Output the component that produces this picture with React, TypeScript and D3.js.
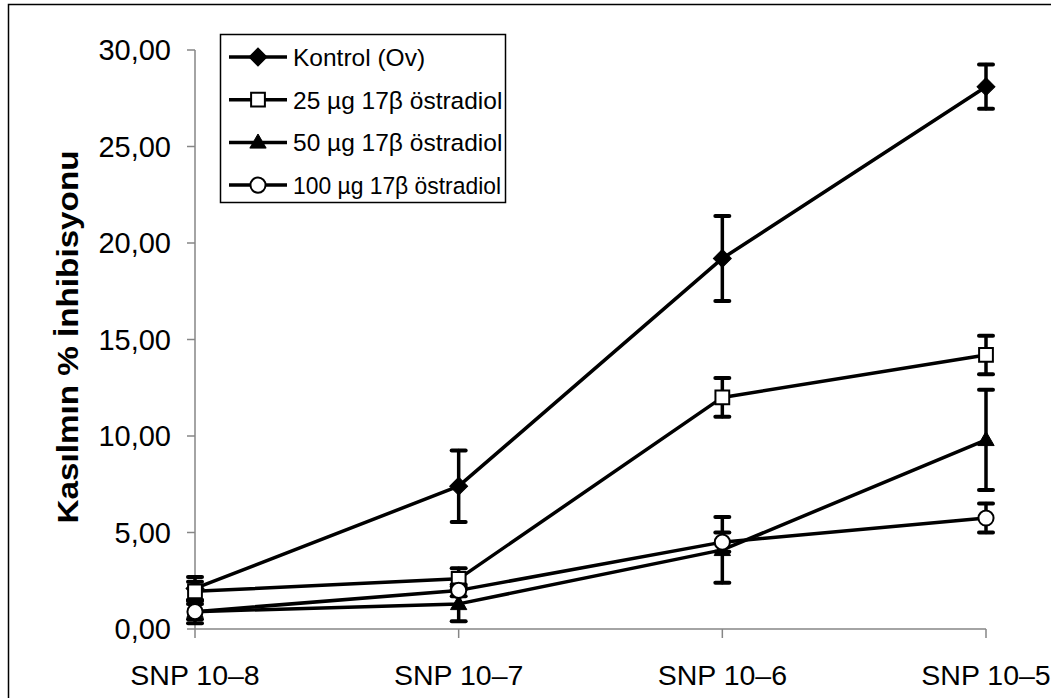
import React from 'react';
import * as d3 from 'd3';

const WIDTH = 1051;
const HEIGHT = 698;

const categories = ['SNP 10–8', 'SNP 10–7', 'SNP 10–6', 'SNP 10–5'];
const yTicks = [0, 5, 10, 15, 20, 25, 30];

const seriesNames = ['Kontrol (Ov)', '25 µg 17β östradiol', '50 µg 17β östradiol', '100 µg 17β östradiol'];
const kontrolValues = [2.1, 7.4, 19.2, 28.1];
const kontrolErrors = [0.6, 1.85, 2.2, 1.15];
const e25Values = [1.95, 2.6, 12.0, 14.2];
const e25Errors = [0.5, 0.55, 1.0, 1.0];
const e50Values = [0.9, 1.3, 4.1, 9.8];
const e50Errors = [0.6, 0.9, 1.7, 2.6];
const e100Values = [0.9, 2.0, 4.5, 5.75];
const e100Errors = [0.4, 0.3, 0.5, 0.75];

type MarkerKind = 'diamond' | 'square' | 'triangle' | 'circle';

const series: {name: string; values: number[]; errors: number[]; marker: MarkerKind}[] = [
    {name: seriesNames[0], values: kontrolValues, errors: kontrolErrors, marker: 'diamond'},
    {name: seriesNames[1], values: e25Values, errors: e25Errors, marker: 'square'},
    {name: seriesNames[2], values: e50Values, errors: e50Errors, marker: 'triangle'},
    {name: seriesNames[3], values: e100Values, errors: e100Errors, marker: 'circle'},
];

const FONT = '"Liberation Sans", Arial, sans-serif';
const AXIS_COLOR = '#868686';

const Marker = ({kind, x, y}: {kind: MarkerKind; x: number; y: number}) => {
    if (kind === 'diamond') {
        const path = d3.symbol(d3.symbolSquare, 160)() || '';
        return <path d={path} transform={`translate(${x},${y}) rotate(45)`} fill="black" stroke="black" strokeWidth={1}/>;
    }
    if (kind === 'square') {
        const path = d3.symbol(d3.symbolSquare, 190)() || '';
        return <path d={path} transform={`translate(${x},${y})`} fill="white" stroke="black" strokeWidth={2}/>;
    }
    if (kind === 'triangle') {
        const path = d3.symbol(d3.symbolTriangle, 115)() || '';
        return <path d={path} transform={`translate(${x},${y + 1})`} fill="black" stroke="black" strokeWidth={1}/>;
    }
    const path = d3.symbol(d3.symbolCircle, 180)() || '';
    return <path d={path} transform={`translate(${x},${y})`} fill="white" stroke="black" strokeWidth={2}/>;
};

export default function App() {
    const xScale = d3.scalePoint<string>().domain(categories).range([195, 986]);
    const yScale = d3.scaleLinear().domain([0, 30]).range([629, 50]);
    const axisLeftX = 195;

    const line = d3.line<number>()
        .x((_, i) => xScale(categories[i]) ?? 0)
        .y(d => yScale(d));

    const legendX = 220;
    const legendY = 34;
    const legendRowStart = 57;
    const legendRowGap = 42.7;

    return (
        <div style={{position: 'fixed', left: 0, top: 0}}>
            <svg width={WIDTH} height={HEIGHT} style={{display: 'block', fontFamily: FONT}}>
                <rect x={0} y={0} width={WIDTH} height={HEIGHT} fill="white"/>
                <rect x={8.5} y={4.5} width={WIDTH + 20} height={HEIGHT + 20} fill="none" stroke="black" strokeWidth={1.5}/>

                {/* axes */}
                <line x1={axisLeftX} x2={axisLeftX} y1={yScale(30)} y2={yScale(0)} stroke={AXIS_COLOR} strokeWidth={1.5}/>
                {yTicks.map(t => (
                    <g key={t}>
                        <line x1={axisLeftX - 8} x2={axisLeftX} y1={yScale(t)} y2={yScale(t)} stroke={AXIS_COLOR} strokeWidth={1.5}/>
                        <text x={171} y={yScale(t)} dy="0.36em" textAnchor="end" fontSize={29} fill="black">
                            {t.toFixed(2).replace('.', ',')}
                        </text>
                    </g>
                ))}
                <line x1={axisLeftX} x2={xScale(categories[3])} y1={yScale(0)} y2={yScale(0)} stroke={AXIS_COLOR} strokeWidth={1.5}/>
                {categories.map(c => (
                    <g key={c}>
                        <line x1={xScale(c)} x2={xScale(c)} y1={yScale(0)} y2={yScale(0) + 9} stroke={AXIS_COLOR} strokeWidth={1.5}/>
                        <text x={xScale(c)} y={685} textAnchor="middle" fontSize={28.5} fill="black">{c}</text>
                    </g>
                ))}

                <text transform={`translate(78,337) rotate(-90)`} textAnchor="middle" fontSize={30} fontWeight="bold" fill="black"
                      textLength={373} lengthAdjust="spacingAndGlyphs">
                    Kasılmın % İnhibisyonu
                </text>

                {/* series */}
                {series.map(s => (
                    <g key={s.name}>
                        <path d={line(s.values) || ''} fill="none" stroke="black" strokeWidth={3.5} strokeLinejoin="round"/>
                        {s.values.map((v, i) => {
                            const x = xScale(categories[i]) ?? 0;
                            const top = yScale(v + s.errors[i]);
                            const bottom = yScale(v - s.errors[i]);
                            return (
                                <g key={i} stroke="black" strokeLinecap="round">
                                    <line x1={x} x2={x} y1={top} y2={bottom} strokeWidth={3.5}/>
                                    <line x1={x - 7} x2={x + 7} y1={top} y2={top} strokeWidth={4}/>
                                    <line x1={x - 7} x2={x + 7} y1={bottom} y2={bottom} strokeWidth={4}/>
                                </g>
                            );
                        })}
                        {s.values.map((v, i) => (
                            <Marker key={i} kind={s.marker} x={xScale(categories[i]) ?? 0} y={yScale(v)}/>
                        ))}
                    </g>
                ))}

                {/* legend */}
                <rect x={legendX + 0.5} y={legendY + 0.5} width={285} height={168} fill="white" stroke="black" strokeWidth={1.5}/>
                {series.map((s, i) => {
                    const ry = legendRowStart + i * legendRowGap;
                    const fit = i === 3 ? {textLength: 208, lengthAdjust: 'spacingAndGlyphs'} : {};
                    return (
                        <g key={s.name}>
                            <line x1={229} x2={287} y1={ry} y2={ry} stroke="black" strokeWidth={3.5}/>
                            <Marker kind={s.marker} x={258} y={ry}/>
                            <text x={293} y={ry} dy="0.36em" fontSize={24.5} fill="black" {...fit}>{s.name}</text>
                        </g>
                    );
                })}
            </svg>
        </div>
    );
}
